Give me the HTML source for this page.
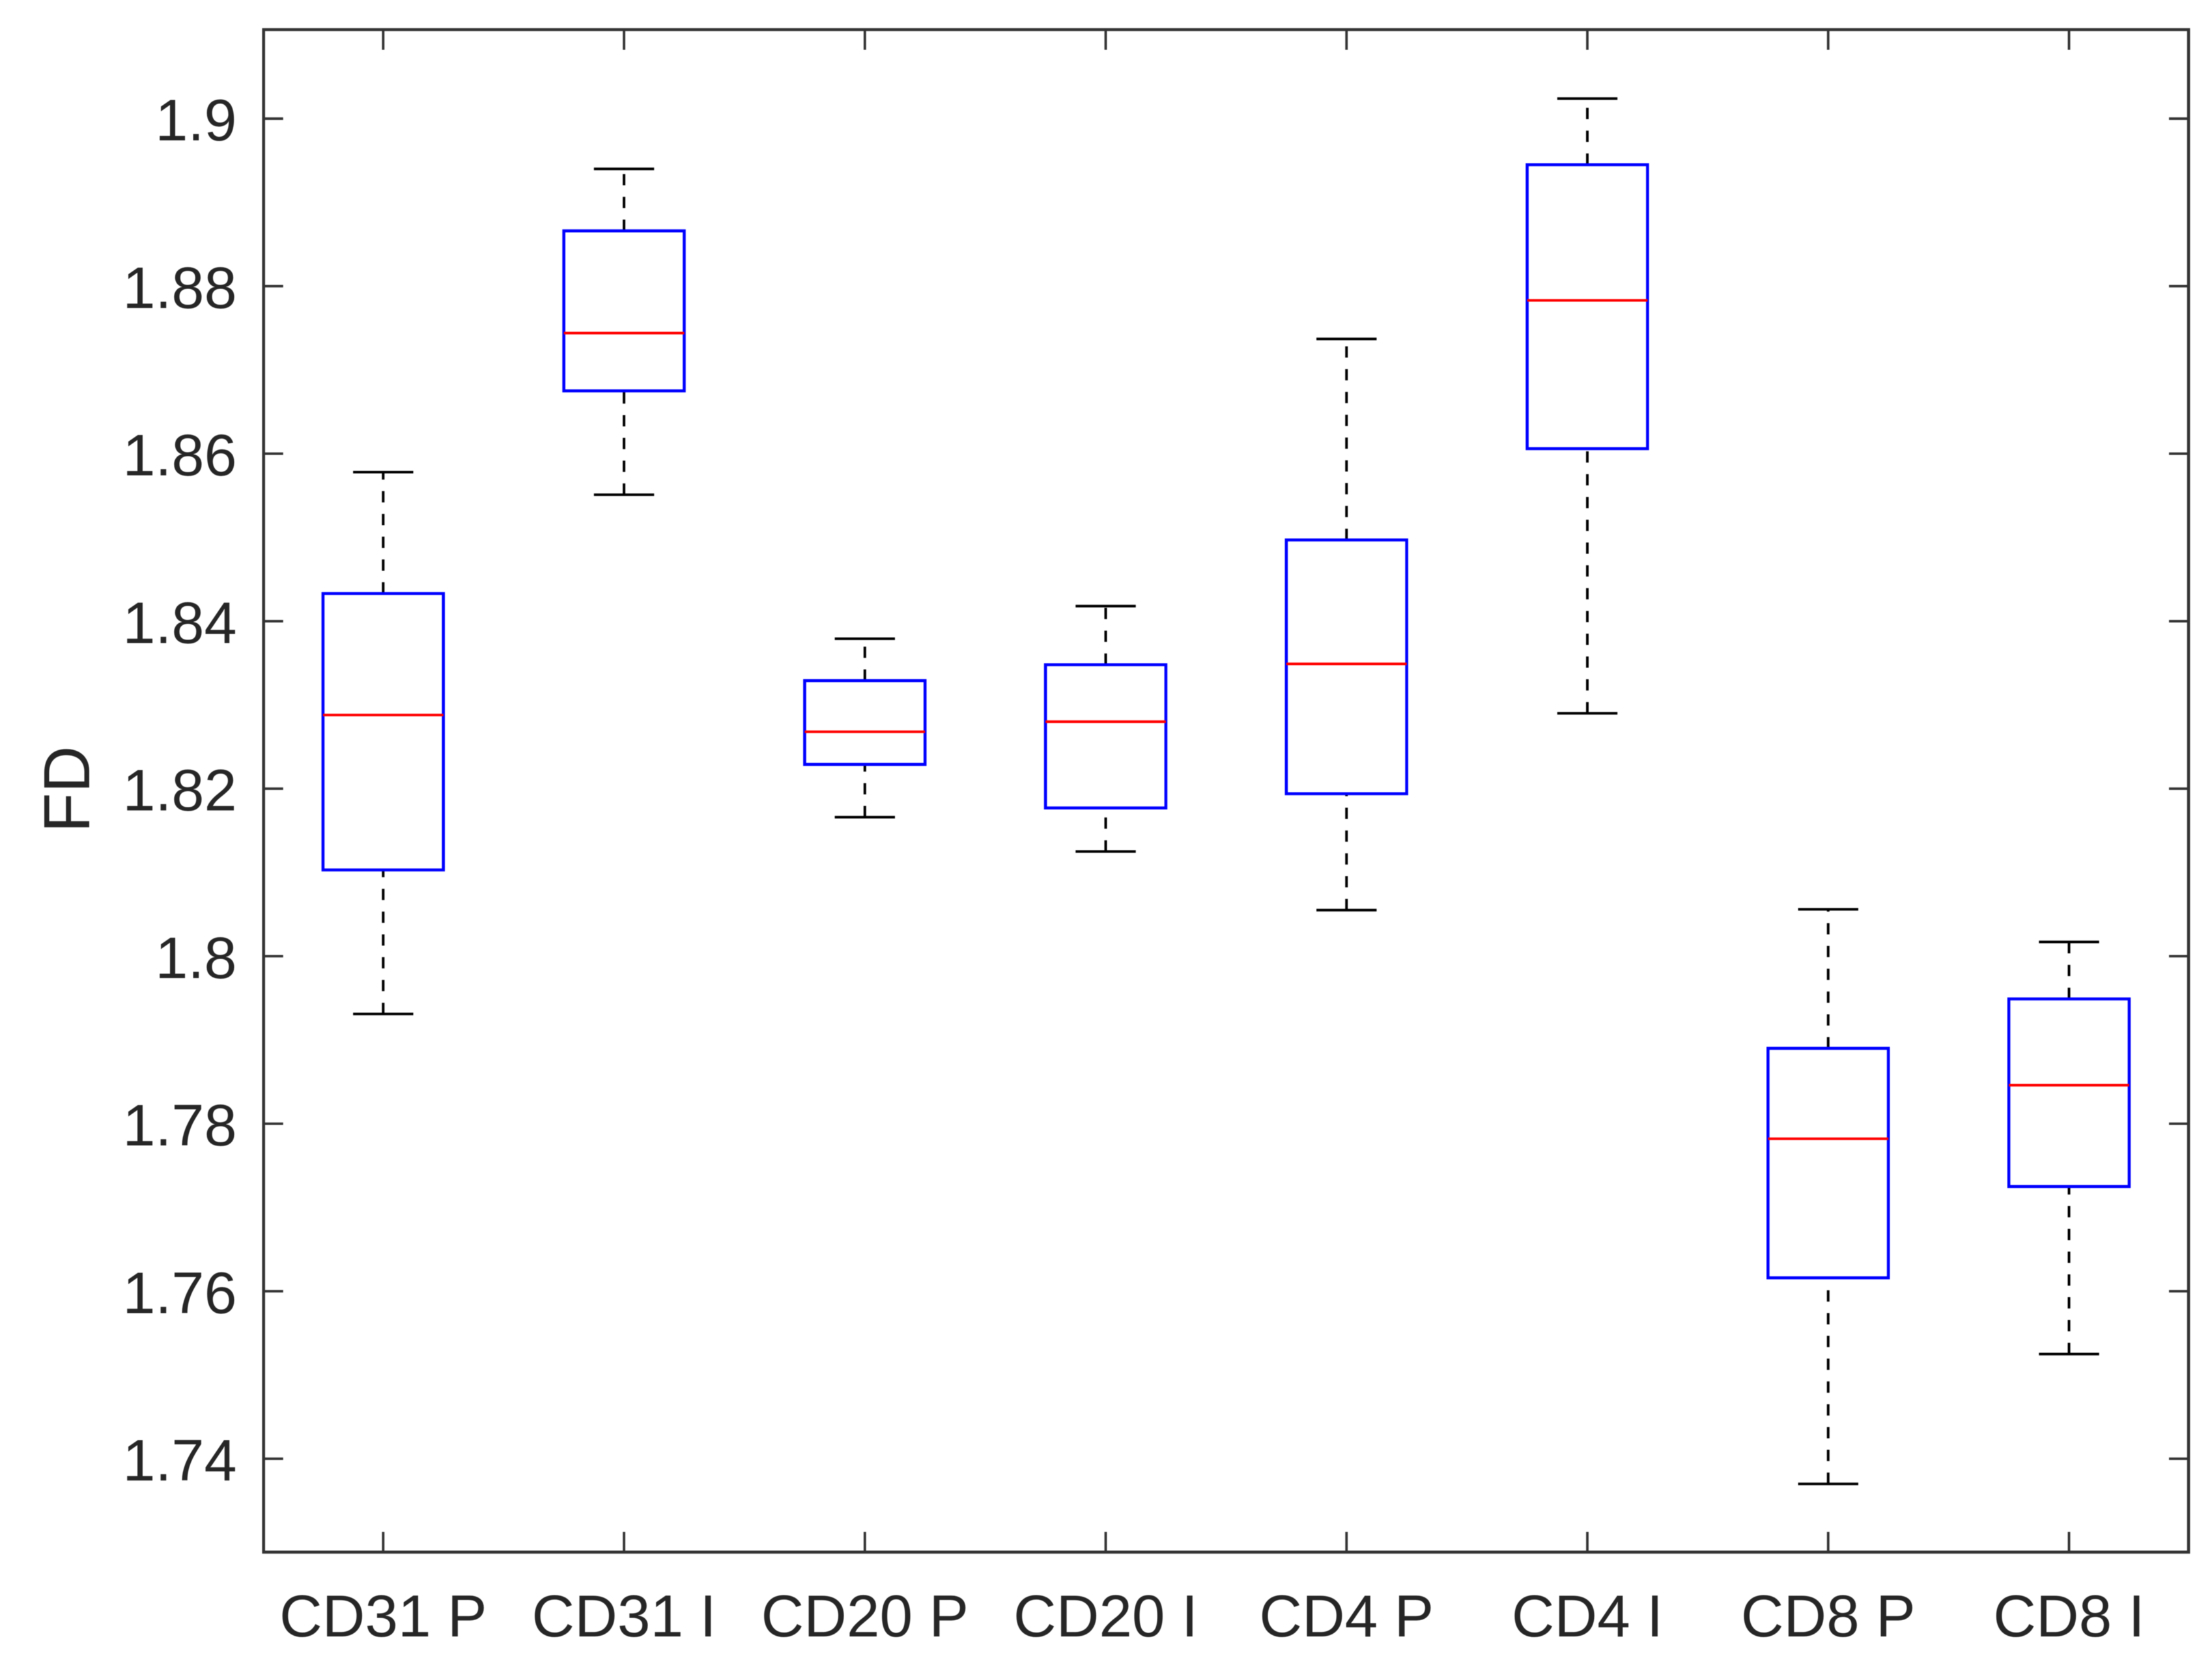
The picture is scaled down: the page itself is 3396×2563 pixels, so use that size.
<!DOCTYPE html>
<html lang="en">
<head>
<meta charset="utf-8">
<title>FD box plot</title>
<style>
  html, body { margin: 0; padding: 0; background: #ffffff; }
  #chart { display: block; width: 3396px; height: 2563px; filter: blur(0.6px); }
  text { font-family: "Liberation Sans", Arial, sans-serif; fill: #262626; }
</style>
</head>
<body>
<svg id="chart" xmlns="http://www.w3.org/2000/svg" width="3396" height="2563" viewBox="0 0 3396 2563">
  <rect x="0" y="0" width="3396" height="2563" fill="#ffffff"></rect>
  <g id="ticks"></g>
  <g id="boxes"></g>
  <rect x="404.7" y="45.5" width="2955.3" height="2338" fill="none" stroke="#333333" stroke-width="4.6"></rect>
  <g id="labels"></g>
  <text x="0" y="0" transform="translate(137 1212) rotate(-90)" text-anchor="middle" font-size="100">FD</text>
</svg>
<script>
const categories = ['CD31 P', 'CD31 I', 'CD20 P', 'CD20 I', 'CD4 P', 'CD4 I', 'CD8 P', 'CD8 I'];
const whiskerHigh = [1.8578, 1.8940, 1.8379, 1.8418, 1.8737, 1.9024, 1.8056, 1.8017];
const quartile3 = [1.8433, 1.8866, 1.8329, 1.8348, 1.8497, 1.8945, 1.7890, 1.7949];
const medians = [1.8288, 1.8744, 1.8268, 1.8280, 1.8349, 1.8783, 1.7782, 1.7846];
const quartile1 = [1.8103, 1.8675, 1.8229, 1.8177, 1.8194, 1.8606, 1.7616, 1.7725];
const whiskerLow = [1.7931, 1.8551, 1.8166, 1.8125, 1.8055, 1.8290, 1.7370, 1.7525];
const yTicks = [1.74, 1.76, 1.78, 1.80, 1.82, 1.84, 1.86, 1.88, 1.90];
const yTickLabels = ['1.74', '1.76', '1.78', '1.8', '1.82', '1.84', '1.86', '1.88', '1.9'];

const SVG_NS = 'http://www.w3.org/2000/svg';
const plotLeft = 404.7, plotRight = 3360, plotTop = 45.5, plotBottom = 2383.5;

function xScale(position) { return 588.3 + (position - 1) * 369.74; }
function yScale(value) { return 182.2 + (1.9 - value) * 12862; }

function make(tag, attrs, parent) {
  const el = document.createElementNS(SVG_NS, tag);
  for (const key in attrs) el.setAttribute(key, attrs[key]);
  parent.appendChild(el);
  return el;
}

const tickGroup = document.getElementById('ticks');
const labelGroup = document.getElementById('labels');
const boxGroup = document.getElementById('boxes');
const tickStyle = { stroke: '#333333', 'stroke-width': 3.8, fill: 'none' };

yTicks.forEach(function (value, i) {
  const y = yScale(value);
  const left = make('line', Object.assign({ x1: plotLeft, x2: plotLeft + 30, y1: y, y2: y }, tickStyle), tickGroup);
  
  
  const right = make('line', Object.assign({ x1: plotRight - 30, x2: plotRight, y1: y, y2: y }, tickStyle), tickGroup);
  
  
  const label = make('text', { x: 363.5, y: y + 33.5, 'text-anchor': 'end', 'font-size': 90 }, labelGroup);
  label.textContent = yTickLabels[i];
  
  
});

categories.forEach(function (name, i) {
  const x = xScale(i + 1);
  const top = make('line', Object.assign({ x1: x, x2: x, y1: plotTop, y2: plotTop + 31 }, tickStyle), tickGroup);
  
  
  const bottom = make('line', Object.assign({ x1: x, x2: x, y1: plotBottom - 31, y2: plotBottom }, tickStyle), tickGroup);
  
  
  const label = make('text', { x: x, y: 2513, 'text-anchor': 'middle', 'font-size': 91 }, labelGroup);
  label.textContent = name;
  
  

  const group = make('g', {}, boxGroup);
  
  

  const halfBox = 92.4, halfCap = 46.2;
  const whiskerStyle = { stroke: '#000000', 'stroke-width': 4, fill: 'none', 'stroke-dasharray': '17.3 17.7' };
  const capStyle = { stroke: '#000000', 'stroke-width': 4, fill: 'none' };

  const lowerWhisker = make('line', Object.assign({ x1: x, x2: x, y1: yScale(whiskerLow[i]), y2: yScale(quartile1[i]) }, whiskerStyle), group);
  
  
  const upperWhisker = make('line', Object.assign({ x1: x, x2: x, y1: yScale(quartile3[i]), y2: yScale(whiskerHigh[i]) }, whiskerStyle), group);
  
  

  const upperCap = make('line', Object.assign({ x1: x - halfCap, x2: x + halfCap, y1: yScale(whiskerHigh[i]), y2: yScale(whiskerHigh[i]) }, capStyle), group);
  
  
  const lowerCap = make('line', Object.assign({ x1: x - halfCap, x2: x + halfCap, y1: yScale(whiskerLow[i]), y2: yScale(whiskerLow[i]) }, capStyle), group);
  
  

  const box = make('rect', {
    x: x - halfBox,
    y: yScale(quartile3[i]),
    width: halfBox * 2,
    height: yScale(quartile1[i]) - yScale(quartile3[i]),
    fill: 'none',
    stroke: '#0000ff',
    'stroke-width': 4.6
  }, group);
  
  

  const median = make('line', { x1: x - halfBox, x2: x + halfBox, y1: yScale(medians[i]), y2: yScale(medians[i]), stroke: '#ff0000', 'stroke-width': 4 }, group);
  
  
});
</script>
</body>
</html>
